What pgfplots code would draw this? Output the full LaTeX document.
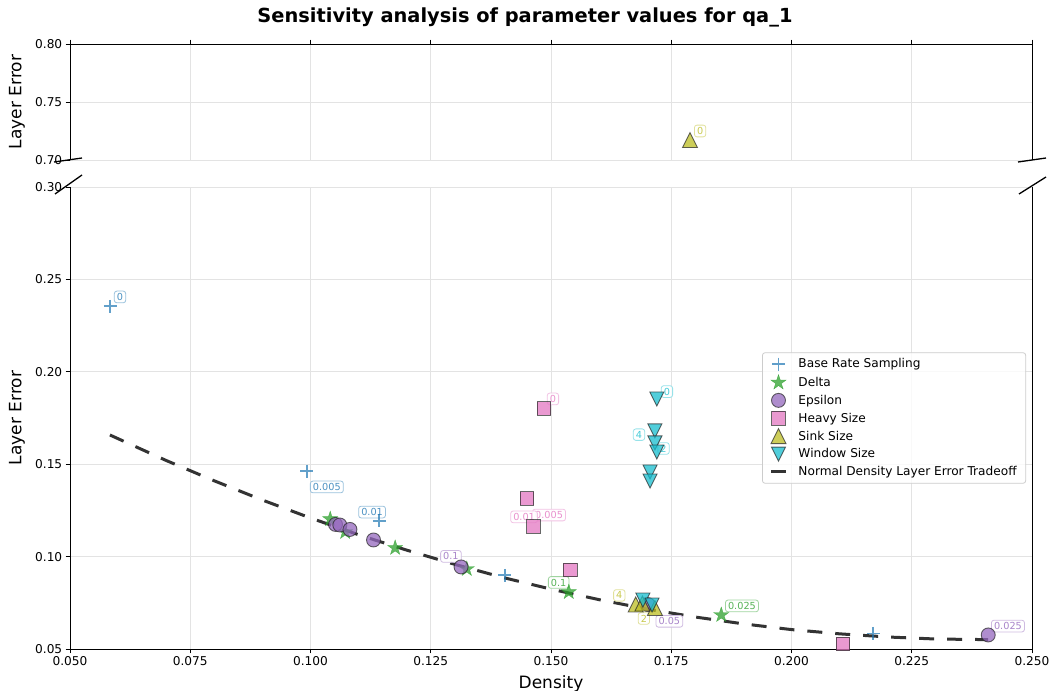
\documentclass[border=0pt]{standalone}
\usepackage{pgfplots}
\pgfplotsset{compat=1.18}
\usepackage{fontspec}
\setmainfont{DejaVu Sans}

\definecolor{cblue}{HTML}{1F77B4}
\definecolor{cgreen}{HTML}{2CA02C}
\definecolor{cpurple}{HTML}{9467BD}
\definecolor{cpink}{HTML}{E377C2}
\definecolor{colive}{HTML}{BCBD22}
\definecolor{ccyan}{HTML}{17BECF}

\newcommand{\tickfont}{\fontsize{12.15bp}{14.5bp}\selectfont}
\newcommand{\labfont}{\fontsize{17bp}{20bp}\selectfont}
\newcommand{\titfont}{\fontsize{19.4bp}{23bp}\selectfont\bfseries}
\newcommand{\annfont}{\fontsize{9.7bp}{11.5bp}\selectfont}

\pgfdeclareplotmark{mstar}{%
  \pgfmathsetlengthmacro{\ri}{0.382*\pgfplotmarksize}%
  \pgfpathmoveto{\pgfpointpolar{90}{\pgfplotmarksize}}%
  \pgfpathlineto{\pgfpointpolar{126}{\ri}}%
  \pgfpathlineto{\pgfpointpolar{162}{\pgfplotmarksize}}%
  \pgfpathlineto{\pgfpointpolar{198}{\ri}}%
  \pgfpathlineto{\pgfpointpolar{234}{\pgfplotmarksize}}%
  \pgfpathlineto{\pgfpointpolar{270}{\ri}}%
  \pgfpathlineto{\pgfpointpolar{306}{\pgfplotmarksize}}%
  \pgfpathlineto{\pgfpointpolar{342}{\ri}}%
  \pgfpathlineto{\pgfpointpolar{18}{\pgfplotmarksize}}%
  \pgfpathlineto{\pgfpointpolar{54}{\ri}}%
  \pgfpathclose\pgfusepathqfillstroke}
\pgfdeclareplotmark{mtriup}{%
  \pgfpathmoveto{\pgfqpoint{0pt}{\pgfplotmarksize}}%
  \pgfpathlineto{\pgfqpoint{-\pgfplotmarksize}{-\pgfplotmarksize}}%
  \pgfpathlineto{\pgfqpoint{\pgfplotmarksize}{-\pgfplotmarksize}}%
  \pgfpathclose\pgfusepathqfillstroke}
\pgfdeclareplotmark{mtridown}{%
  \pgfpathmoveto{\pgfqpoint{0pt}{-\pgfplotmarksize}}%
  \pgfpathlineto{\pgfqpoint{-\pgfplotmarksize}{\pgfplotmarksize}}%
  \pgfpathlineto{\pgfqpoint{\pgfplotmarksize}{\pgfplotmarksize}}%
  \pgfpathclose\pgfusepathqfillstroke}

\tikzset{
  lab/.style={font=\annfont, text=#1!80, draw=#1!45, fill=white, fill opacity=0.85, text opacity=1,
    rounded corners=2.5bp, inner xsep=2.6bp, inner ysep=2.2bp, line width=0.8bp},
  mkedge/.style={draw=black!85, draw opacity=0.7, fill opacity=0.75, line width=0.9bp},
}

\pgfplotsset{
  brk/.style={
    scale only axis, width=962bp,
    xmin=0.05, xmax=0.25,
    xtick={0.05,0.075,0.1,0.125,0.15,0.175,0.2,0.225,0.25},
    grid=major, major grid style={line width=0.8bp, draw=black!11},
    tick align=outside, major tick length=4.25bp,
    every tick/.style={line width=0.97bp, black},
    axis line style={line width=0.97bp, black},
    tick label style={font=\tickfont},
    /pgf/number format/assume math mode=true,
    ylabel style={font=\labfont, at={(axis description cs:-0.0551,0.5)}, anchor=center},
  },
  lineleg/.style={legend image code/.code={\draw[black!80, line width=3bp] (1bp,0bp) -- (16bp,0bp);}},
}

\pgfplotstableread{
x y
0.0584 0.2354
0.0992 0.1463
0.1143 0.1193
0.1404 0.0898
0.2170 0.0584
}\tabbrs
\pgfplotstableread{
x y
0.1041 0.1203
0.1072 0.1133
0.1176 0.1047
0.1325 0.0933
0.1537 0.0808
0.1854 0.0684
}\tabdelta
\pgfplotstableread{
x y
0.1052 0.1174
0.1061 0.1171
0.1082 0.1147
0.1131 0.1090
0.1313 0.0944
0.1702 0.0740
0.2409 0.0576
}\tabeps
\pgfplotstableread{
x y
0.1485 0.1801
0.1450 0.1314
0.1464 0.1163
0.1540 0.0927
0.2107 0.0527
}\tabheavy
\pgfplotstableread{
x y
0.1676 0.0741
0.1690 0.0746
0.1716 0.0722
}\tabsink
\pgfplotstableread{
x y
0.1720 0.1853
0.1716 0.1680
0.1716 0.1615
0.1720 0.1566
0.1706 0.1458
0.1706 0.1409
0.1691 0.0765
0.1710 0.0738
}\tabwindow
\pgfplotstableread{
x y
0.0583 0.1658
0.0700 0.1520
0.0800 0.1410
0.0900 0.1306
0.1000 0.1209
0.1100 0.1118
0.1200 0.1035
0.1300 0.0958
0.1400 0.0887
0.1500 0.0824
0.1600 0.0767
0.1700 0.0716
0.1800 0.0673
0.1900 0.0636
0.2000 0.0605
0.2100 0.0582
0.2200 0.0565
0.2300 0.0554
0.2400 0.0551
0.2409 0.0551
}\tabtradeoff

\begin{document}
\begin{tikzpicture}
\useasboundingbox (0,0) rectangle (1050bp,691bp);

% top panel
\begin{axis}[brk,
  at={(70bp,531bp)}, anchor=south west, height=116bp,
  ymin=0.70, ymax=0.80, ytick={0.70,0.75,0.80},
  yticklabel style={/pgf/number format/.cd, fixed, fixed zerofill, precision=2},
  axis x line*=top, axis y line*=box, ytick pos=left,
  xticklabels={},
  ylabel={Layer Error},
]
\addplot[only marks, mark=mtriup, mark size=7.5bp, mark options={mkedge, fill=colive}] table {
x y
0.1789 0.7172
};
\node[lab=colive] at (axis cs:0.1810,0.7250) {0};
\end{axis}

% bottom panel
\begin{axis}[brk,
  at={(70bp,42bp)}, anchor=south west, height=462bp,
  ymin=0.05, ymax=0.30, ytick={0.05,0.10,0.15,0.20,0.25,0.30},
  xticklabel style={/pgf/number format/.cd, fixed, fixed zerofill, precision=3},
  yticklabel style={/pgf/number format/.cd, fixed, fixed zerofill, precision=2},
  axis x line*=bottom, axis y line*=box, ytick pos=left,
  xlabel={Density}, ylabel={Layer Error},
  xlabel style={font=\labfont, at={(axis description cs:0.5,0)}, anchor=base, yshift=-39bp},
  legend style={at={(0.9938,0.5)}, anchor=east, font=\tickfont, draw=black!20, line width=0.8bp,
    rounded corners=2.5bp, fill=white, fill opacity=0.8, text opacity=1, draw opacity=1,
    row sep=3.1bp, inner xsep=7bp, inner ysep=4bp,
    /tikz/every odd column/.append style={column sep=9bp}},
  legend cell align=left,
]
\addplot[forget plot, black!80, line width=3bp, dash pattern=on 15bp off 13bp] table {\tabtradeoff};

\addplot[only marks, color=cblue, mark=+, mark size=6.5bp, mark options={draw=cblue, draw opacity=0.7, line width=1.9bp}] table {\tabbrs};
\addlegendentry{Base Rate Sampling}
\addplot[only marks, color=cgreen, mark=mstar, mark size=8bp, mark options={fill=cgreen, draw=cgreen, fill opacity=0.75, draw opacity=0.75, line width=0.3bp}] table {\tabdelta};
\addlegendentry{Delta}
\addplot[only marks, color=cpurple, mark=*, mark size=7bp, mark options={mkedge, fill=cpurple}] table {\tabeps};
\addlegendentry{Epsilon}
\addplot[only marks, color=cpink, mark=square*, mark size=6.8bp, mark options={mkedge, fill=cpink}] table {\tabheavy};
\addlegendentry{Heavy Size}
\addplot[only marks, color=colive, mark=mtriup, mark size=7.5bp, mark options={mkedge, fill=colive}] table {\tabsink};
\addlegendentry{Sink Size}
\addplot[only marks, color=ccyan, mark=mtridown, mark size=7bp, mark options={mkedge, fill=ccyan}] table {\tabwindow};
\addlegendentry{Window Size}
\addlegendimage{lineleg}
\addlegendentry{Normal Density Layer Error Tradeoff}

\node[lab=cblue] at (axis cs:0.0604,0.2405) {0};
\node[lab=cblue] at (axis cs:0.1034,0.1377) {0.005};
\node[lab=cblue] at (axis cs:0.1128,0.1241) {0.01};
\node[lab=cgreen] at (axis cs:0.1516,0.0860) {0.1};
\node[lab=cgreen] at (axis cs:0.1897,0.0733) {0.025};
\node[lab=cpurple] at (axis cs:0.1292,0.1001) {0.1};
\node[lab=cpurple] at (axis cs:0.2450,0.0624) {0.025};
\node[lab=cpurple] at (axis cs:0.1746,0.0650) {0.05};
\node[lab=cpink] at (axis cs:0.1504,0.1853) {0};
\node[lab=cpink] at (axis cs:0.1496,0.1225) {0.005};
\node[lab=cpink] at (axis cs:0.1444,0.1215) {0.01};
\node[lab=colive] at (axis cs:0.1642,0.0790) {4};
\node[lab=colive] at (axis cs:0.1693,0.0665) {2};
\node[lab=ccyan] at (axis cs:0.1741,0.1893) {0};
\node[lab=ccyan] at (axis cs:0.1683,0.1660) {4};
\node[lab=ccyan] at (axis cs:0.1734,0.1585) {2};
\end{axis}

% break marks
\draw[line width=1.3bp] (54bp,529bp) -- (82bp,533bp);
\draw[line width=1.3bp] (1018bp,529bp) -- (1046bp,533bp);
\draw[line width=1.3bp] (55bp,497bp) -- (82bp,516bp);
\draw[line width=1.3bp] (1019bp,497bp) -- (1046bp,514bp);

\node[font=\titfont, anchor=base] at (525bp,668bp) {Sensitivity analysis of parameter values for qa\_1};
\end{tikzpicture}
\end{document}
